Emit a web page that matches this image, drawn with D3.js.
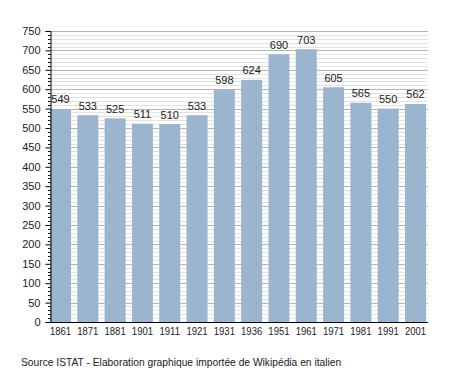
<!DOCTYPE html>
<html>
<head>
<meta charset="utf-8">
<script src="https://cdn.jsdelivr.net/npm/d3@7"></script>
<style>
  body { margin: 0; background: #fff; }
  svg text { font-family: "Liberation Sans", Arial, sans-serif; }
</style>
</head>
<body>
<svg id="chart" width="455" height="373"></svg>
<script>
const years = ["1861","1871","1881","1901","1911","1921","1931","1936","1951","1961","1971","1981","1991","2001"];
const population = [549,533,525,511,510,533,598,624,690,703,605,565,550,562];
const yTicks = [0,50,100,150,200,250,300,350,400,450,500,550,600,650,700,750];
const source = "Source ISTAT - Elaboration graphique importée de Wikipédia en italien";

const svg = d3.select('#chart');
const plotLeft = 50, plotRight = 426, plotTop = 31, plotBottom = 322;

let x = d3.scaleBand()
  .domain(years)
  .range([plotLeft, plotRight])
  .paddingInner(0.23)
  .paddingOuter(0)
  .align(0);

let y = d3.scaleLinear()
  .domain([0, 750])
  .range([plotBottom, plotTop]);

const minorVals = d3.range(0, 751, 10).filter(v => v % 50 !== 0);

// minor grid every 10
svg.append('g').selectAll('line')
  .data(minorVals)
  .join('line')
  .attr('x1', plotLeft).attr('x2', plotRight + 2)
  .attr('y1', d => Math.round(y(d)) + 0.5).attr('y2', d => Math.round(y(d)) + 0.5)
  .attr('stroke', '#e2e2e2').attr('stroke-width', 1);

// major grid
svg.append('g').selectAll('line')
  .data(yTicks.filter(v => v > 0))
  .join('line')
  .attr('x1', plotLeft).attr('x2', plotRight + 2)
  .attr('y1', d => Math.round(y(d)) + 0.5).attr('y2', d => Math.round(y(d)) + 0.5)
  .attr('stroke', '#b4b4b4').attr('stroke-width', 1);

// bars
svg.append('g').selectAll('rect')
  .data(population)
  .join('rect')
  .attr('x', (d, i) => x(years[i]))
  .attr('y', d => y(d))
  .attr('width', x.bandwidth())
  .attr('height', d => plotBottom - y(d))
  .attr('fill', '#9cb5cf');

// value labels
svg.append('g').selectAll('text')
  .data(population)
  .join('text')
  .attr('x', (d, i) => x(years[i]) + x.bandwidth() / 2)
  .attr('y', d => y(d) - 5.5)
  .attr('text-anchor', 'middle')
  .attr('font-size', 11)
  .attr('fill', '#222')
  .text(d => d);

// y axis
let yAxis = d3.axisLeft(y).tickValues(yTicks).tickSize(5).tickPadding(5);
let gy = svg.append('g').attr('transform', `translate(${plotLeft + 0.5},0)`).call(yAxis);
gy.select('.domain').attr('stroke', '#000');
gy.selectAll('text').attr('font-size', 11).attr('fill', '#222');

// minor ticks on y axis
svg.append('g').selectAll('line')
  .data(minorVals)
  .join('line')
  .attr('x1', plotLeft - 2).attr('x2', plotLeft + 0.5)
  .attr('y1', d => Math.round(y(d)) + 0.5).attr('y2', d => Math.round(y(d)) + 0.5)
  .attr('stroke', '#000');

// x axis
let xAxis = d3.axisBottom(x).tickSize(0).tickPadding(4);
let gx = svg.append('g').attr('transform', `translate(0,${plotBottom + 0.5})`).call(xAxis);
gx.select('.domain').attr('d', `M${plotLeft},0H${plotRight + 2}`).attr('stroke', '#000');
gx.selectAll('.tick line').remove();
gx.selectAll('text').attr('font-size', 11.5).attr('fill', '#222')
  .attr('transform', 'scale(0.83,1)');

// footer
svg.append('text')
  .attr('x', 21).attr('y', 366)
  .attr('font-size', 10.25)
  .attr('fill', '#222')
  .text(source);
</script>
</body>
</html>
